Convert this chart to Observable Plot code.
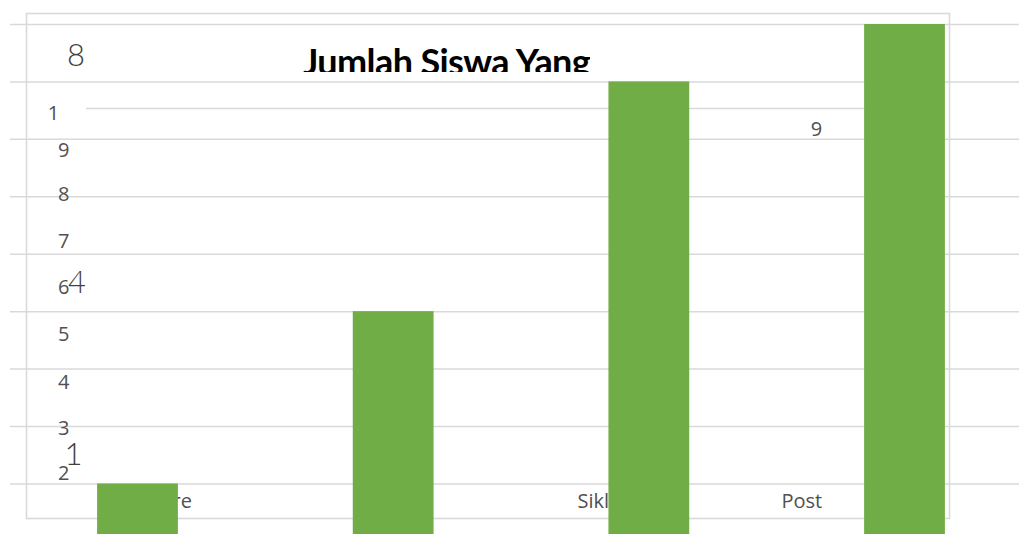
<!DOCTYPE html>
<html>
<head>
<meta charset="utf-8">
<script src="https://cdn.jsdelivr.net/npm/d3@7"></script>
<script src="https://cdn.jsdelivr.net/npm/@observablehq/plot@0.6"></script>
<style>
  html, body { margin: 0; padding: 0; background: #fff; }
  #wrap { position: relative; width: 1019px; height: 534px; overflow: hidden; }
  #title { position: absolute; left: 303px; top: 43px; height: 29px; overflow: hidden;
           font-family: Lato, "Open Sans", sans-serif; font-weight: 700; font-size: 36px;
           line-height: 1; color: #000; white-space: nowrap; letter-spacing: -0.6px; }
</style>
</head>
<body>
<div id="wrap"><div id="title">Jumlah Siswa Yang</div></div>
<script>
// Bars: category index position and value
const categories = ["Pre", "Siklus I", "Siklus II", "Post"];
const values = [1, 4, 8, 9];

// Horizontal gridlines (value units)
const gridValues = [0, 1, 2, 3, 4, 5, 6, 7, 8, 9];
const extraLineValue = 7.537;

// Garbled vertical-axis labels (text, y in value units)
const tickLabels = ["1", "9", "8", "7", "6", "5", "4", "3", "2"];
const tickLabelY = [7.441, 6.805, 6.039, 5.212, 4.420, 3.593, 2.766, 1.957, 1.173];
const tickLabelX = [-0.3305, -0.291, -0.291, -0.291, -0.291, -0.291, -0.291, -0.291, -0.291];

// Large data labels
const bigLabels = ["8", "4", "1"];
const bigLabelY = [8.442, 4.490, 1.495];
const bigLabelX = [-0.2425, -0.2386, -0.2523];

// Stray small label
const strayLabels = ["9"];
const strayLabelY = [7.162];
const strayLabelX = [2.654];

// Category labels visible along bottom (x = left edge, in category units)
const xLabels = ["Pre", "Siklus", "Post"];
const xLabelX = [0.088, 1.719, 2.517];
const xLabelY = [0.695, 0.695, 0.695];

const bars = categories.map((c, i) => ({c, i, v: values[i]}));
const toRows = (labels, xs, ys) => labels.map((t, i) => ({t, x: xs[i], y: ys[i]}));

const halfW = 0.158;
const grid = "#d9d9d9";

const chart = Plot.plot({
  width: 1019,
  height: 534,
  marginLeft: 26,
  marginRight: 70,
  marginTop: 13,
  marginBottom: 16,
  style: {fontFamily: "'Open Sans', sans-serif", fontSize: "20px", color: "#595959", background: "#fff"},
  x: {type: "linear", domain: [-0.4361, 3.174], axis: null},
  y: {type: "linear", domain: [0, 9], range: [540.9, 24], axis: null},
  marks: [
    Plot.frame({stroke: grid, strokeWidth: 1.6}),
    Plot.ruleY(gridValues, {y: d => d, stroke: grid, strokeWidth: 1.5, insetLeft: -16, insetRight: -70}),
    Plot.ruleY([extraLineValue], {y: d => d, stroke: grid, strokeWidth: 1.5, insetLeft: 60, insetRight: 4}),
    Plot.text(toRows(tickLabels, tickLabelX, tickLabelY), {x: "x", y: "y", text: "t", fill: "#505050", fontSize: 20}),
    Plot.text(toRows(strayLabels, strayLabelX, strayLabelY), {x: "x", y: "y", text: "t", fill: "#505050", fontSize: 20}),
    Plot.text(toRows(bigLabels, bigLabelX, bigLabelY), {x: "x", y: "y", text: "t", fill: "#404040", fontSize: 31, fontWeight: 300, fontFamily: "Lato, 'Open Sans', sans-serif"}),
    Plot.text(toRows(xLabels, xLabelX, xLabelY), {x: "x", y: "y", text: "t", fill: "#505050", fontSize: 20, textAnchor: "start"}),
    Plot.rect(bars, {x1: d => d.i - halfW, x2: d => d.i + halfW, y1: 0, y2: "v", fill: "#70AD47"})
  ]
});
document.getElementById("wrap").insertBefore(chart, document.getElementById("title"));
</script>
</body>
</html>
